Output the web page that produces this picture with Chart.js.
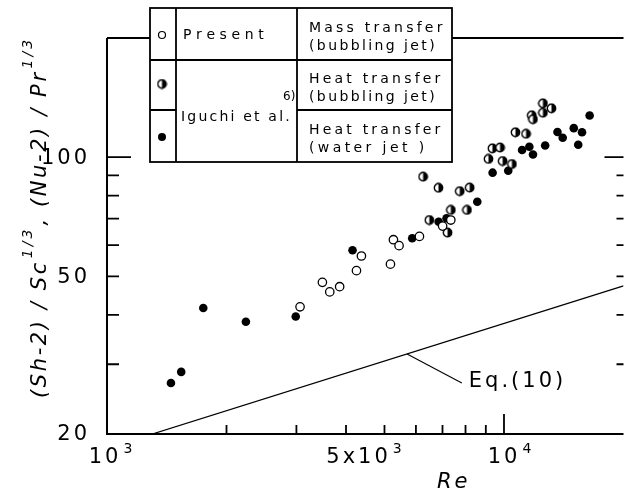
<!DOCTYPE html>
<html>
<head>
<meta charset="utf-8">
<script src="https://cdn.jsdelivr.net/npm/chart.js@4"></script>
<style>
  body { margin: 0; background: #fff; }
  #chart { display: block; }
</style>
</head>
<body>
<canvas id="chart" width="629" height="494"></canvas>
<script>
// Mass transfer, bubbling jet (present work) - open circles
const presentRe = [3064, 3488, 3640, 3855, 4250, 4374, 5176, 5266, 5441, 6124, 7005, 7346];
const presentVal = [41.9, 48.3, 45.7, 47.1, 51.7, 56.3, 53.7, 61.9, 59.8, 63.1, 67.0, 69.4];

// Iguchi et al. heat transfer, bubbling jet - half filled
const bubblingRe = [6256, 6838, 7736, 8195, 7346, 8067, 6486, 7208, 9138, 9350,
                    9772, 9920, 10471, 10689, 11364, 11743, 11832, 12531, 13172, 12531];
const bubblingVal = [89.3, 83.7, 82.1, 83.8, 73.6, 73.6, 69.4, 64.5, 99.0, 105.3,
                     105.8, 97.8, 96.1, 115.6, 114.6, 127.6, 124.7, 136.8, 132.9, 129.5];

// Iguchi et al. heat transfer, water jet - filled
const waterRe = [1449, 1538, 1748, 2238, 2988, 4154, 5872, 6846, 7167, 8565, 9361,
                 10249, 11106, 11584, 11832, 12697, 13636, 14057, 14988, 15723, 15382, 16434];
const waterVal = [26.9, 28.7, 41.6, 38.4, 39.6, 58.2, 62.4, 68.7, 70.1, 77.2, 91.4,
                  92.4, 104.3, 106.3, 101.6, 107.0, 115.8, 112.0, 118.4, 115.6, 107.5, 127.4];

// Eq.(10)
const eqRe = [1300, 20000];
const eqVal = [20, 47.3];

// axis ticks
const xMinorTicks = [2000, 3000, 4000, 5000, 6000, 7000, 8000, 9000];
const xMajorTicks = [10000];
const yMinorTicks = [30, 40, 50, 60, 70, 80, 90];
const yMajorTicks = [100];
const yTickLabels = [20, 50, 100];

const FONT = '"DejaVu Sans", sans-serif';

function pts(xs, ys) {
  return xs.map((x, i) => ({ x: x, y: ys[i] }));
}

// half filled marker (right half black)
function halfMarker() {
  const c = document.createElement('canvas');
  c.width = 11; c.height = 11;
  const g = c.getContext('2d');
  g.fillStyle = '#fff';
  g.beginPath(); g.arc(5.5, 5.5, 4.2, 0, Math.PI * 2); g.fill();
  g.fillStyle = '#000';
  g.beginPath(); g.arc(5.5, 5.5, 4.2, -Math.PI / 2, Math.PI / 2); g.closePath(); g.fill();
  g.strokeStyle = '#000'; g.lineWidth = 1.4;
  g.beginPath(); g.arc(5.5, 5.5, 4.2, 0, Math.PI * 2); g.stroke();
  return c;
}
const halfImg = halfMarker();

// draw text char by char with extra spacing, returns end x
function spaced(ctx, text, x, y, sp) {
  for (const ch of text) {
    ctx.fillText(ch, x, y);
    x += ctx.measureText(ch).width + sp;
  }
  return x;
}
function spacedWidth(ctx, text, sp) {
  let w = 0;
  for (const ch of text) w += ctx.measureText(ch).width + sp;
  return w - sp;
}

const decoPlugin = {
  id: 'deco',
  beforeDatasetsDraw(chart) {
    const ctx = chart.ctx;
    const a = chart.chartArea;
    const xs = chart.scales.x, ys = chart.scales.y;
    ctx.save();
    ctx.strokeStyle = '#000';
    ctx.lineWidth = 2;
    ctx.beginPath();
    ctx.moveTo(a.left, a.top); ctx.lineTo(a.left, a.bottom); ctx.lineTo(a.right, a.bottom);
    ctx.moveTo(a.left, a.top); ctx.lineTo(a.right, a.top);
    ctx.stroke();

    // inward ticks
    ctx.lineWidth = 1.8;
    ctx.beginPath();
    xMinorTicks.forEach(v => { const p = xs.getPixelForValue(v); ctx.moveTo(p, a.bottom); ctx.lineTo(p, a.bottom - 9); });
    xMajorTicks.forEach(v => { const p = xs.getPixelForValue(v); ctx.moveTo(p, a.bottom); ctx.lineTo(p, a.bottom - 20); });
    yMinorTicks.forEach(v => {
      const p = ys.getPixelForValue(v);
      ctx.moveTo(a.left, p); ctx.lineTo(a.left + 12, p);
      ctx.moveTo(a.right, p); ctx.lineTo(a.right - 7, p);
    });
    yMajorTicks.forEach(v => {
      const p = ys.getPixelForValue(v);
      ctx.moveTo(a.left, p); ctx.lineTo(a.left + 24, p);
      ctx.moveTo(a.right, p); ctx.lineTo(a.right - 19, p);
    });
    ctx.stroke();

    // y tick labels
    ctx.fillStyle = '#000';
    ctx.font = '21px ' + FONT;
    ctx.textBaseline = 'middle';
    yTickLabels.forEach(v => {
      const s = String(v);
      const w = spacedWidth(ctx, s, 3);
      spaced(ctx, s, 87 - w, ys.getPixelForValue(v) + 1, 3);
    });

    // x tick labels
    const xLabel = (base, sup, v, dx) => {
      ctx.font = '21px ' + FONT;
      const w1 = spacedWidth(ctx, base, 3);
      ctx.font = '14px ' + FONT;
      const w2 = ctx.measureText(sup).width;
      const x0 = xs.getPixelForValue(v) - (w1 + w2 + 2) / 2 + dx;
      ctx.font = '21px ' + FONT;
      ctx.textBaseline = 'alphabetic';
      const e = spaced(ctx, base, x0, 463, 3);
      ctx.font = '14px ' + FONT;
      ctx.fillText(sup, e + 2, 453);
    };
    xLabel('10', '3', 1000, 2);
    xLabel('5x10', '3', 5000, -22);
    xLabel('10', '4', 10000, 4);

    // x title
    ctx.font = 'italic 21px ' + FONT;
    ctx.textBaseline = 'alphabetic';
    spaced(ctx, 'Re', 437, 488, 3);

    // y title (rotated)
    ctx.save();
    ctx.translate(46, 398);
    ctx.rotate(-Math.PI / 2);
    let x = 0;
    const seg = (t, sup) => {
      if (sup) {
        ctx.font = 'italic 14px ' + FONT;
        x = spaced(ctx, t, x + 2, -14, 3) + 1;
      } else {
        ctx.font = 'italic 21px ' + FONT;
        x = spaced(ctx, t, x, 0, 2.6);
      }
    };
    seg('(Sh-2) / Sc'); seg('1/3', true); seg(', (Nu-2) / Pr'); seg('1/3', true);
    ctx.restore();

    // Eq.(10) leader + label
    const k = Math.log(eqVal[1] / eqVal[0]) / Math.log(eqRe[1] / eqRe[0]);
    const lx0 = xs.getPixelForValue(5700), ly0 = ys.getPixelForValue(eqVal[0] * Math.pow(5700 / eqRe[0], k));
    const lx1 = xs.getPixelForValue(7830), ly1 = ys.getPixelForValue(26.9);
    ctx.lineWidth = 1.1;
    ctx.beginPath(); ctx.moveTo(lx0, ly0); ctx.lineTo(lx1, ly1); ctx.stroke();
    ctx.font = '21px ' + FONT;
    ctx.textBaseline = 'middle';
    spaced(ctx, 'Eq.(10)', lx1 + 7, ly1 - 1, 3);
    ctx.restore();
  },
  afterDatasetsDraw(chart) {
    const ctx = chart.ctx;
    ctx.save();
    // legend table
    const L = 150, R = 452, T = 8, B = 162, c1 = 176, c2 = 297, r1 = 60, r2 = 110;
    ctx.fillStyle = '#fff';
    ctx.fillRect(L, T, R - L, B - T);
    ctx.strokeStyle = '#000';
    ctx.lineWidth = 1.8;
    ctx.strokeRect(L, T, R - L, B - T);
    ctx.beginPath();
    ctx.moveTo(c1, T); ctx.lineTo(c1, B);
    ctx.moveTo(c2, T); ctx.lineTo(c2, B);
    ctx.moveTo(L, r1); ctx.lineTo(R, r1);
    ctx.moveTo(L, r2); ctx.lineTo(c1, r2);
    ctx.moveTo(c2, r2); ctx.lineTo(R, r2);
    ctx.stroke();

    // symbols
    ctx.lineWidth = 1.2;
    ctx.beginPath(); ctx.arc(162, 35, 3.5, 0, Math.PI * 2); ctx.stroke();
    ctx.drawImage(halfImg, 162 - 5.5, 84 - 5.5);
    ctx.fillStyle = '#000';
    ctx.beginPath(); ctx.arc(162, 137, 4, 0, Math.PI * 2); ctx.fill();

    ctx.font = '14px ' + FONT;
    ctx.textBaseline = 'middle';
    spaced(ctx, 'Present', 183, 35, 4.6);
    spaced(ctx, 'Mass transfer', 309, 28, 3.2);
    spaced(ctx, '(bubbling jet)', 309, 46, 2.4);
    spaced(ctx, 'Heat transfer', 309, 79, 3.2);
    spaced(ctx, '(bubbling jet)', 309, 97, 2.4);
    spaced(ctx, 'Heat transfer', 309, 130, 3.2);
    spaced(ctx, '(water jet )', 309, 148, 3.4);
    spaced(ctx, 'Iguchi et al.', 181, 117, 2.2);
    ctx.font = '12px ' + FONT;
    ctx.fillText('6)', 283, 97);
    ctx.restore();
  }
};

new Chart(document.getElementById('chart'), {
  type: 'scatter',
  data: {
    datasets: [
      {
        label: 'Eq.(10)',
        type: 'line',
        data: pts(eqRe, eqVal),
        borderColor: '#000',
        borderWidth: 1.3,
        pointRadius: 0,
        fill: false
      },
      {
        label: 'Present',
        data: pts(presentRe, presentVal),
        pointStyle: 'circle',
        radius: 4.2,
        backgroundColor: '#fff',
        borderColor: '#000',
        borderWidth: 1.3
      },
      {
        label: 'Heat transfer (bubbling jet)',
        data: pts(bubblingRe, bubblingVal),
        pointStyle: halfImg
      },
      {
        label: 'Heat transfer (water jet)',
        data: pts(waterRe, waterVal),
        pointStyle: 'circle',
        radius: 4.3,
        backgroundColor: '#000',
        borderColor: '#000',
        borderWidth: 0
      }
    ]
  },
  options: {
    responsive: false,
    devicePixelRatio: 1,
    animation: false,
    layout: { padding: { left: 107, right: 0, top: 38, bottom: 60 } },
    plugins: { legend: { display: false }, tooltip: { enabled: false } },
    scales: {
      x: { type: 'logarithmic', min: 1000, max: 20000, display: false },
      y: { type: 'logarithmic', min: 20, max: 200, display: false }
    }
  },
  plugins: [decoPlugin]
});
</script>
</body>
</html>
